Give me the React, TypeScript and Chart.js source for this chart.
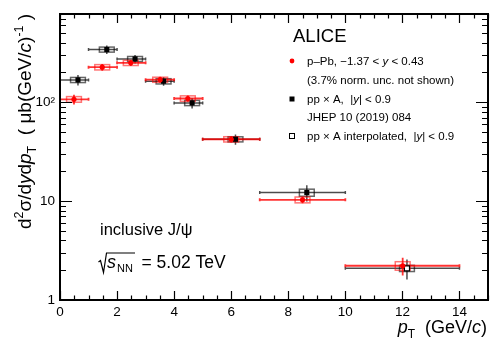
import React, { useEffect, useRef } from 'react';
import { Chart, registerables } from 'chart.js';
Chart.register(...registerables);

const FONT = '"Liberation Sans", Arial, Helvetica, sans-serif';

// p-Pb, -1.37 < y < 0.43
const pPbPt = [0.49, 1.48, 2.48, 3.51, 4.48, 6.0, 8.5, 12.01];
const pPbLow = [0, 1, 2, 3, 4, 5, 7, 10];
const pPbHigh = [1, 2, 3, 4, 5, 7, 10, 14];
const pPbY = [107, 226, 250, 169, 109, 42.2, 10.3, 2.22];
const pPbStat = [12, 18, 17, 12, 8, 3.0, 0.8, 0.45];
const pPbSys = [7, 14, 15, 10, 7, 2.6, 0.7, 0.22];

// pp x A, |y| < 0.9
const ppPt = [0.63, 1.64, 2.63, 3.63, 4.63, 6.15, 8.65];
const ppLow = [0, 1, 2, 3, 4, 5, 7];
const ppHigh = [1, 2, 3, 4, 5, 7, 10];
const ppY = [168, 341, 274, 163, 98.4, 42.2, 12.2];
const ppStat = [20, 34, 27, 16, 12, 5, 2.3];
const ppSys = [10, 20, 16, 10, 6, 2.5, 1.0];

// pp x A interpolated
const interpPt = [12.16];
const interpLow = [10];
const interpHigh = [14];
const interpY = [2.09];
const interpStat = [0.48];
const interpSys = [0.15];

const xMajorTicks = [0, 2, 4, 6, 8, 10, 12, 14];
const yDecades = [1, 10, 100];
const yTickLabels = ['1', '10', '10²'];

const BOX_HALF = 0.26;

type Seg = { t: string; it?: boolean; sz?: number; dy?: number };

function segsWidth(ctx: CanvasRenderingContext2D, segs: Seg[], base: number) {
  let w = 0;
  for (const s of segs) {
    ctx.font = `${s.it ? 'italic ' : ''}${s.sz ?? base}px ${FONT}`;
    w += ctx.measureText(s.t).width;
  }
  return w;
}
function drawSegs(ctx: CanvasRenderingContext2D, segs: Seg[], x: number, y: number, base: number) {
  let cx = x;
  ctx.textAlign = 'left';
  ctx.textBaseline = 'alphabetic';
  for (const s of segs) {
    ctx.font = `${s.it ? 'italic ' : ''}${s.sz ?? base}px ${FONT}`;
    ctx.fillText(s.t, cx, y + (s.dy ?? 0));
    cx += ctx.measureText(s.t).width;
  }
  return cx - x;
}

const rootPlugin = {
  id: 'rootStyle',
  beforeDatasetsDraw(chart: any) {
    const { ctx, chartArea: a } = chart;
    const xs = chart.scales.x;
    const ys = chart.scales.y;
    ctx.save();
    ctx.beginPath();
    ctx.rect(a.left, a.top, a.right - a.left, a.bottom - a.top);
    ctx.clip();
    const drawSet = (pt: number[], lo: number[], hi: number[], val: number[], stat: number[], sys: number[], color: string, boxColor: string, lw: number) => {
      for (let i = 0; i < pt.length; i++) {
        const px = xs.getPixelForValue(pt[i]);
        const py = ys.getPixelForValue(val[i]);
        // systematic box
        const bx0 = xs.getPixelForValue(pt[i] - BOX_HALF);
        const bx1 = xs.getPixelForValue(pt[i] + BOX_HALF);
        const by0 = ys.getPixelForValue(val[i] + sys[i]);
        const by1 = ys.getPixelForValue(val[i] - sys[i]);
        ctx.strokeStyle = boxColor;
        ctx.lineWidth = 1.5;
        ctx.strokeRect(bx0, by0, bx1 - bx0, by1 - by0);
        // bin width bar
        ctx.strokeStyle = color;
        ctx.lineWidth = lw;
        const hx0 = xs.getPixelForValue(lo[i]);
        const hx1 = xs.getPixelForValue(hi[i]);
        ctx.beginPath();
        ctx.moveTo(hx0, py);
        ctx.lineTo(hx1, py);
        ctx.moveTo(hx0, py - 1.5);
        ctx.lineTo(hx0, py + 1.5);
        ctx.moveTo(hx1, py - 1.5);
        ctx.lineTo(hx1, py + 1.5);
        // stat bar
        ctx.moveTo(px, ys.getPixelForValue(val[i] - stat[i]));
        ctx.lineTo(px, ys.getPixelForValue(val[i] + stat[i]));
        ctx.stroke();
      }
    };
    drawSet(interpPt, interpLow, interpHigh, interpY, interpStat, interpSys, 'rgba(0,0,0,0.7)', 'rgba(0,0,0,0.6)', 1.5);
    drawSet(ppPt, ppLow, ppHigh, ppY, ppStat, ppSys, 'rgba(0,0,0,0.7)', 'rgba(0,0,0,0.6)', 1.5);
    drawSet(pPbPt, pPbLow, pPbHigh, pPbY, pPbStat, pPbSys, 'rgba(255,0,0,0.8)', 'rgba(255,0,0,0.55)', 1.8);
    ctx.restore();
  },
  afterDraw(chart: any) {
    const { ctx, chartArea: a } = chart;
    const xs = chart.scales.x;
    const ys = chart.scales.y;
    ctx.save();
    ctx.fillStyle = '#000';
    ctx.strokeStyle = '#000';
    // ticks
    ctx.lineWidth = 1.2;
    ctx.beginPath();
    for (let v = 0; v <= 15.001; v += 0.5) {
      const px = Math.round(xs.getPixelForValue(v)) + 0.5;
      const major = xMajorTicks.includes(v);
      const len = major ? 9 : 4.5;
      ctx.moveTo(px, a.bottom); ctx.lineTo(px, a.bottom - len);
      ctx.moveTo(px, a.top); ctx.lineTo(px, a.top + len);
    }
    for (const d of yDecades) {
      for (let m = 1; m <= 9; m++) {
        const v = d * m;
        if (v > ys.max) break;
        const py = Math.round(ys.getPixelForValue(v)) + 0.5;
        const len = m === 1 ? 12 : 6;
        ctx.moveTo(a.left, py); ctx.lineTo(a.left + len, py);
        ctx.moveTo(a.right, py); ctx.lineTo(a.right - len, py);
      }
    }
    ctx.stroke();
    // frame
    ctx.lineWidth = 2;
    ctx.strokeRect(a.left, a.top, a.right - a.left, a.bottom - a.top);

    // y title
    const yt: Seg[] = [
      { t: 'd' }, { t: '2', sz: 12.5, dy: -8 }, { t: 'σ/d' }, { t: 'y', it: true }, { t: 'd' }, { t: 'p', it: true },
      { t: 'T', sz: 12.5, dy: 5 }, { t: '  ( μb(GeV/' }, { t: 'c', it: true }, { t: ')' }, { t: '-1', sz: 12.5, dy: -8 }, { t: ' )' },
    ];
    const yts = 19;
    const yw = segsWidth(ctx, yt, yts);
    ctx.save();
    ctx.translate(31, 121.5 + yw / 2);
    ctx.rotate(-Math.PI / 2);
    drawSegs(ctx, yt, 0, 0, yts);
    ctx.restore();

    // x title
    const xt: Seg[] = [{ t: 'p', it: true }, { t: 'T', sz: 12, dy: 5 }, { t: '  (GeV/' }, { t: 'c', it: true }, { t: ')' }];
    const xw = segsWidth(ctx, xt, 18);
    drawSegs(ctx, xt, 487 - xw, 333, 18);

    // ALICE
    ctx.font = `18.5px ${FONT}`;
    ctx.fillText('ALICE', 293, 42);

    // legend
    const lf = 11.5;
    const tx = 307;
    ctx.fillStyle = '#ff0000';
    ctx.beginPath(); ctx.arc(292, 61, 2.4, 0, Math.PI * 2); ctx.fill();
    ctx.fillStyle = '#000';
    drawSegs(ctx, [{ t: 'p–Pb, −1.37 < ' }, { t: 'y', it: true }, { t: ' < 0.43' }], tx, 65, lf);
    drawSegs(ctx, [{ t: '(3.7% norm. unc. not shown)' }], tx, 84, lf);
    ctx.fillRect(289.5, 96.5, 5, 5);
    drawSegs(ctx, [{ t: 'pp × A,  |' }, { t: 'y', it: true }, { t: '| < 0.9' }], tx, 103, lf);
    drawSegs(ctx, [{ t: 'JHEP 10 (2019) 084' }], tx, 121, lf);
    ctx.lineWidth = 1;
    ctx.strokeRect(289.5, 133.5, 5, 5);
    drawSegs(ctx, [{ t: 'pp × A interpolated,  |' }, { t: 'y', it: true }, { t: '| < 0.9' }], tx, 140, lf);

    // annotations
    drawSegs(ctx, [{ t: 'inclusive J/ψ' }], 100, 235, 16.5);
    ctx.lineWidth = 1.2;
    ctx.beginPath();
    ctx.moveTo(98.5, 262);
    ctx.lineTo(100.5, 260.5);
    ctx.lineTo(103.5, 272.5);
    ctx.lineTo(106.5, 253);
    ctx.lineTo(135, 253);
    ctx.stroke();
    drawSegs(ctx, [{ t: 's', it: true }], 107, 268, 18);
    drawSegs(ctx, [{ t: 'NN' }], 117, 272, 11);
    drawSegs(ctx, [{ t: '= 5.02 TeV' }], 141.5, 268, 17.5);
    ctx.restore();
  },
};

export default function App() {
  const ref = useRef<HTMLCanvasElement>(null);
  useEffect(() => {
    const canvas = ref.current!;
    const chart = new Chart(canvas, {
      type: 'scatter',
      data: {
        datasets: [
          {
            label: 'p–Pb',
            data: pPbPt.map((x, i) => ({ x, y: pPbY[i] })),
            pointStyle: 'circle',
            pointRadius: 2.6,
            backgroundColor: '#ff0000',
            borderColor: '#ff0000',
            borderWidth: 0,
          },
          {
            label: 'pp × A',
            data: ppPt.map((x, i) => ({ x, y: ppY[i] })),
            pointStyle: 'rect',
            pointRadius: 3.6,
            backgroundColor: '#000',
            borderColor: '#000',
            borderWidth: 0,
          },
          {
            label: 'pp × A interpolated',
            data: interpPt.map((x, i) => ({ x, y: interpY[i] })),
            pointStyle: 'rect',
            pointRadius: 3.6,
            backgroundColor: '#fff',
            borderColor: '#000',
            borderWidth: 1.2,
          },
        ],
      },
      options: {
        animation: false,
        responsive: false,
        devicePixelRatio: 1,
        events: [],
        layout: { padding: { top: 14, right: 10, left: 0, bottom: 0 } },
        plugins: { legend: { display: false }, tooltip: { enabled: false } },
        scales: {
          x: {
            type: 'linear',
            min: 0,
            max: 15,
            grid: { display: false, drawTicks: false, tickLength: 0 },
            border: { display: false },
            ticks: {
              stepSize: 2,
              autoSkip: false,
              maxRotation: 0,
              padding: 4,
              color: '#000',
              font: { family: FONT, size: 13.5 },
              callback: (v: any) => (xMajorTicks.includes(Number(v)) ? String(v) : null),
            },
            afterFit: (s: any) => { s.height = 45; },
          },
          y: {
            type: 'logarithmic',
            min: 1,
            max: 780,
            grid: { display: false, drawTicks: false, tickLength: 0 },
            border: { display: false },
            ticks: {
              autoSkip: false,
              padding: 5,
              color: '#000',
              font: { family: FONT, size: 13.5 },
              callback: (v: any) => {
                const idx = yDecades.findIndex((d) => Math.abs(d - Number(v)) < 1e-6 * d);
                return idx >= 0 ? yTickLabels[idx] : null;
              },
            },
            afterFit: (s: any) => { s.width = 60; },
          },
        },
      },
      plugins: [rootPlugin],
    });
    return () => chart.destroy();
  }, []);
  return (
    <div style={{ position: 'absolute', left: 0, top: 0, width: 498, height: 345, background: '#fff' }}>
      <canvas ref={ref} width={498} height={345} style={{ width: 498, height: 345, display: 'block' }} />
    </div>
  );
}
